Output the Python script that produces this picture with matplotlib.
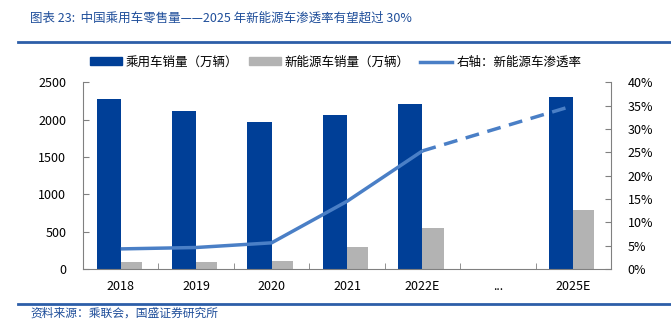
import matplotlib
matplotlib.use('Agg')
import matplotlib.pyplot as plt
import numpy as np
from matplotlib.patches import Patch
from matplotlib.lines import Line2D

plt.rcParams['font.family'] = ['Noto Sans CJK SC', 'DejaVu Sans']

years = ['2018', '2019', '2020', '2021', '2022E', '...', '2025E']
car_sales = [2280, 2115, 1975, 2060, 2205, None, 2310]
nev_sales = [90, 95, 108, 295, 545, None, 795]
penetration = [4.3, 4.6, 5.6, 14.5, 25.3, None, 35.0]

blue = '#003f97'
grey = '#b3b3b3'
line_blue = '#4a7fc6'
title_blue = '#1f4e9a'

fig = plt.figure(figsize=(6.71, 3.28), dpi=100)
ax = fig.add_axes([0.1237, 0.18, 0.7869, 0.569])
ax2 = ax.twinx()

x = np.arange(len(years))
idx = [i for i in range(len(years)) if car_sales[i] is not None]
ax.bar([x[i] - 0.16 for i in idx], [car_sales[i] for i in idx], width=0.32, color=blue, zorder=2)
ax.bar([x[i] + 0.14 for i in idx], [nev_sales[i] for i in idx], width=0.28, color=grey, zorder=2)

# solid up to 2022E, dashed to 2025E
ax2.plot(x[:5], penetration[:5], color=line_blue, lw=2.5, solid_capstyle='butt')
ax2.plot([x[4], x[6]], [penetration[4], penetration[6]], color=line_blue, lw=2.5, ls=(0, (4, 2.5)))

ax.set_xlim(-0.5, 6.5)
ax.set_ylim(0, 2500)
ax.set_yticks(np.arange(0, 2501, 500))
ax2.set_ylim(0, 40)
ax2.set_yticks(np.arange(0, 41, 5))
ax2.set_yticklabels([f'{v}%' for v in range(0, 41, 5)])

ax.set_xticks(x)
ax.set_xticklabels(years)
ax.set_xticks(np.arange(0.5, 6, 1), minor=True)
ax.tick_params(axis='x', which='major', length=0, pad=8, labelsize=9)
ax.tick_params(axis='x', which='minor', length=4, direction='in', color='#808080')
ax.tick_params(axis='y', direction='in', length=4, color='#808080', labelsize=9, pad=12)
ax2.tick_params(axis='y', direction='in', length=4, color='#808080', labelsize=9, pad=12)

for a in (ax, ax2):
    a.spines['top'].set_visible(False)
    for s in ('left', 'right', 'bottom'):
        a.spines[s].set_color('#808080')
ax.spines['right'].set_visible(False)
ax2.spines['left'].set_visible(False)
ax2.spines['bottom'].set_visible(False)

handles = [Patch(color=blue), Patch(color=grey), Line2D([0], [0], color=line_blue, lw=2.5)]
labels = ['乘用车销量（万辆）', '新能源车销量（万辆）', '右轴：新能源车渗透率']
fig.legend(handles, labels, loc='center', bbox_to_anchor=(0.5, 0.81), ncol=3, frameon=False,
           fontsize=9, handlelength=2.6, handleheight=0.6, handletextpad=0.3, columnspacing=0.8)

fig.text(0.045, 0.945, '图表 23:  中国乘用车零售量——2025 年新能源车渗透率有望超过 30%',
         fontsize=9, color=title_blue, style='italic', va='center')
fig.add_artist(Line2D([0.027, 1.0], [0.872, 0.872], color='#2d5ea8', lw=2))
fig.add_artist(Line2D([0.027, 1.0], [0.073, 0.073], color='#2d5ea8', lw=2))
fig.text(0.045, 0.045, '资料来源：乘联会，国盛证券研究所', fontsize=8.5, color=title_blue,
         style='italic', va='center')

fig.savefig('out.png', dpi=100)
